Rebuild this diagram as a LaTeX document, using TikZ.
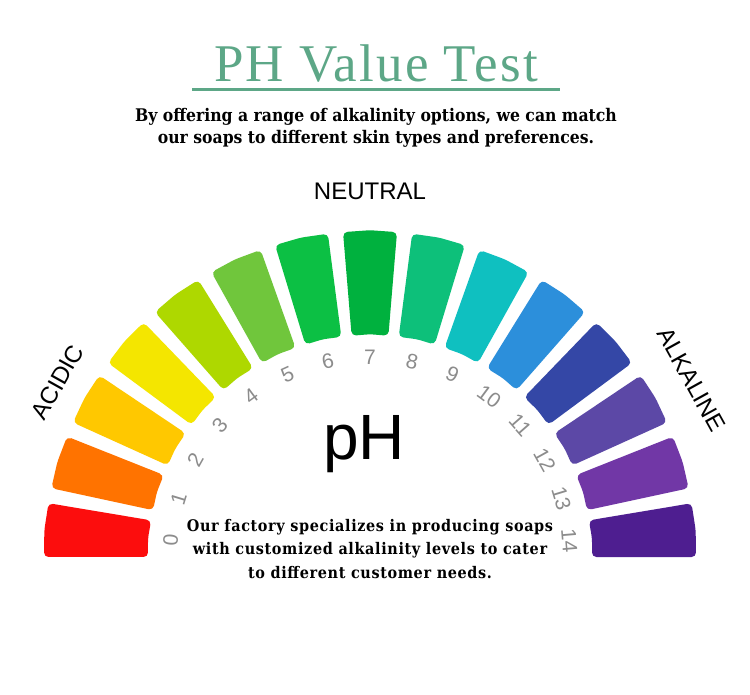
\documentclass[tikz,border=0pt]{standalone}
\usepackage{fontspec}
\setmainfont{DejaVu Serif}
\newfontfamily\sansf{Liberation Sans}
\newfontfamily\condf{DejaVu Serif Condensed}
\newfontfamily\condspf[LetterSpace=4]{DejaVu Serif Condensed}
\newfontfamily\titlefont[LetterSpace=4]{Liberation Serif}
\usetikzlibrary{calc}
\definecolor{titlegreen}{HTML}{5DA787}
\definecolor{numgray}{HTML}{8C8C8C}
\definecolor{s0}{HTML}{FC0D0D}
\definecolor{s1}{HTML}{FF7300}
\definecolor{s2}{HTML}{FFC800}
\definecolor{s3}{HTML}{F4E600}
\definecolor{s4}{HTML}{AED800}
\definecolor{s5}{HTML}{70C63C}
\definecolor{s6}{HTML}{0CC044}
\definecolor{s7}{HTML}{00B13E}
\definecolor{s8}{HTML}{0DC07A}
\definecolor{s9}{HTML}{0FC0C0}
\definecolor{s10}{HTML}{2C8FDB}
\definecolor{s11}{HTML}{3447A6}
\definecolor{s12}{HTML}{5C48A6}
\definecolor{s13}{HTML}{7137A6}
\definecolor{s14}{HTML}{4E1E90}
\tikzset{
  introtext/.style={font=\condf\bfseries\fontsize{17.4}{22}\selectfont, align=center, inner sep=0pt},
  outrotext/.style={font=\condspf\bfseries\fontsize{16}{23.5}\selectfont, align=center, inner sep=0pt},
  scalelabel/.style={font=\sansf\fontsize{24}{24}\selectfont, inner sep=0pt},
  numlabel/.style={font=\sansf\fontsize{21}{21}\selectfont, text=numgray, inner sep=0pt},
  segment/.style={rounded corners=4.5pt}
}
\begin{document}
\begin{tikzpicture}[x=1pt,y=1pt]
\useasboundingbox[fill=white] (0,0) rectangle (750,694);
\coordinate (C) at (370,137);
% title
\node[font=\titlefont\fontsize{53}{60}\selectfont, text=titlegreen, inner sep=0pt] (title) at (376,630) {PH Value Test};
\coordinate (ulA) at (192,604);
\coordinate (ulB) at (560,604);
\draw[titlegreen, line width=3pt] (ulA) -- (ulB);
\node[introtext] (intro) at (376,566) {By offering a range of alkalinity options, we can match\\our soaps to different skin types and preferences.};
% segments
\foreach \i in {0,...,14}{
  \pgfmathsetmacro\a{175.25-12.179*\i}
  \pgfmathsetmacro\lo{\a-4.75}
  \pgfmathsetmacro\hi{\a+4.75}
  \fill[s\i, segment] ($(C)+(\lo:222)$) -- ($(C)+(\lo:326)$) -- ($(C)+(\a:326.8)$) -- ($(C)+(\hi:326)$) -- ($(C)+(\hi:222)$) -- ($(C)+(\a:222.8)$) -- cycle;
  \node[numlabel, rotate=\a-90] (n\i) at ($(C)+(\a:200)$) {\i};
}
\node[scalelabel, anchor=base] (neutral) at (370,494) {NEUTRAL};
\node[scalelabel, rotate=60.8] (acidic) at ($(C)+(150.8:358)$) {ACIDIC};
\node[scalelabel, rotate=-61] (alkaline) at ($(C)+(28.9:367)$) {ALKALINE};
\node[font=\sansf\fontsize{64}{64}\selectfont, anchor=base, inner sep=0pt] (ph) at (364,234) {pH};
\node[outrotext] (outro) at (370,145) {Our factory specializes in producing soaps\\with customized alkalinity levels to cater\\to different customer needs.};
\end{tikzpicture}
\end{document}
